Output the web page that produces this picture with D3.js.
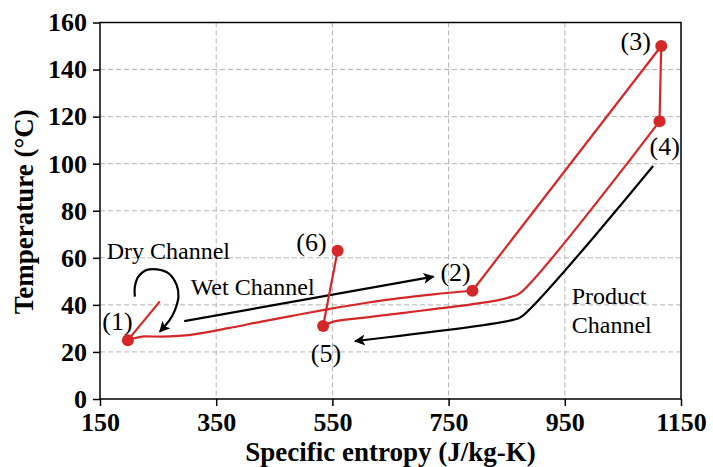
<!DOCTYPE html>
<html>
<head>
<meta charset="utf-8">
<script src="https://cdn.jsdelivr.net/npm/d3@7/dist/d3.min.js"></script>
<style>
  html, body { margin: 0; padding: 0; background: #fff; }
  svg { display: block; }
</style>
</head>
<body>
<svg id="chart" width="713" height="467"></svg>
<script>
// Axis ticks
const xTicks = [150, 350, 550, 750, 950, 1150];
const yTicks = [0, 20, 40, 60, 80, 100, 120, 140, 160];

// State points (1)..(6): specific entropy (J/kg-K) and temperature (°C)
const stateLabels = ["(1)", "(2)", "(3)", "(4)", "(5)", "(6)"];
const stateS = [198, 791, 1116, 1113, 534, 559];
const stateT = [25, 46, 150, 118, 31, 63];
// label anchor positions (entropy, temperature) for the state numbers
const labelS = [180, 762, 1072, 1122, 539, 514];
const labelT = [29.3, 50.1, 148.5, 103.7, 15.7, 62.9];

// Process (1) -> (2): wet channel heating
const wetS = [198, 228, 256, 285, 314, 371, 428, 486, 543, 609, 666, 724, 791];
const wetT = [25, 26.6, 26.5, 26.8, 27.6, 30.1, 32.9, 35.6, 38.2, 40.9, 42.9, 44.5, 46];
// Process (2) -> (3) and (3) -> (4)
const heatS = [791, 1116];
const heatT = [46, 150];
const dropS = [1116, 1113];
const dropT = [150, 118];
// Process (5) -> (4): product/dry channel
const dryS = [534, 552, 609, 666, 724, 781, 838, 856, 873, 1113];
const dryT = [31, 32.9, 34.7, 36.4, 38.2, 39.9, 42.1, 43.3, 45.0, 118];
// Process (5) -> (6)
const mixS = [534, 559];
const mixT = [31, 63];
// Short branch from (1)
const branchS = [198, 253];
const branchT = [25, 41.5];

// Black flow arrows
const productS = [1102, 876, 861, 589];
const productT = [99, 35.1, 33.6, 24.6];
const wetArrowS = [295, 724];
const wetArrowT = [33.1, 52.0];
const loopS = [210, 210, 216, 230, 248, 268, 282, 285, 279, 270, 253];
const loopT = [43.5, 47.7, 52.0, 54.8, 55.1, 53.4, 48.4, 43.5, 37.8, 33.6, 28.6];

// Channel captions
const captions = ["Dry Channel", "Wet Channel", "Product", "Channel"];
const captionS = [161.5, 306, 962, 962];
const captionT = [59.5, 44.1, 40.3, 28.0];

const RED = "#d62728";
const svg = d3.select("#chart");
const plotL = 100, plotR = 681, plotT = 22.5, plotB = 399;

const x = d3.scaleLinear().domain([150, 1150]).range([plotL, plotR]);
const y = d3.scaleLinear().domain([0, 160]).range([plotB, plotT]);

const serif = "'Liberation Serif', 'Times New Roman', Times, serif";

// grid
const grid = svg.append("g");
grid.selectAll(".gx").data(xTicks.slice(1, -1)).enter().append("line")
  .attr("x1", d => x(d)).attr("x2", d => x(d))
  .attr("y1", plotT).attr("y2", plotB)
  .attr("stroke", "#b3b3b3").attr("stroke-width", 1).attr("stroke-dasharray", "5,3");
grid.selectAll(".gy").data(yTicks.slice(1, -1)).enter().append("line")
  .attr("y1", d => y(d)).attr("y2", d => y(d))
  .attr("x1", plotL).attr("x2", plotR)
  .attr("stroke", "#b3b3b3").attr("stroke-width", 1).attr("stroke-dasharray", "5,3");

// axes
const xAxis = svg.append("g").attr("transform", `translate(0,${plotB})`)
  .call(d3.axisBottom(x).tickValues(xTicks).tickFormat(d3.format("d")).tickSize(7).tickPadding(7));
const yAxis = svg.append("g").attr("transform", `translate(${plotL},0)`)
  .call(d3.axisLeft(y).tickValues(yTicks).tickFormat(d3.format("d")).tickSize(7).tickPadding(6));
[xAxis, yAxis].forEach(g => {
  g.select(".domain").remove();
  g.selectAll(".tick line").attr("stroke", "#000").attr("stroke-width", 1.5);
  g.selectAll(".tick text").attr("fill", "#000")
    .style("font-family", serif).style("font-size", "26px").style("font-weight", "bold");
});

// frame
svg.append("rect").attr("x", plotL).attr("y", plotT)
  .attr("width", plotR - plotL).attr("height", plotB - plotT)
  .attr("fill", "none").attr("stroke", "#000").attr("stroke-width", 1.5);

// axis titles
svg.append("text").attr("x", (plotL + plotR) / 2).attr("y", 461)
  .attr("text-anchor", "middle")
  .style("font-family", serif).style("font-size", "27px").style("font-weight", "bold")
  .text("Specific entropy (J/kg-K)");
svg.append("text").attr("transform", "translate(33,211.7) rotate(-90)")
  .attr("text-anchor", "middle")
  .style("font-family", serif).style("font-size", "27px").style("font-weight", "bold")
  .text("Temperature (°C)");

// arrowhead marker
const defs = svg.append("defs");
defs.append("marker").attr("id", "arrow")
  .attr("viewBox", "0 0 10 10").attr("refX", 9).attr("refY", 5)
  .attr("markerUnits", "userSpaceOnUse")
  .attr("markerWidth", 13).attr("markerHeight", 11)
  .attr("orient", "auto")
  .append("path").attr("d", "M0,0 L10,5 L0,10 L2.5,5 Z").attr("fill", "#000");

const zip = (s, t) => s.map((v, i) => [v, t[i]]);
const lineLin = d3.line().x(d => x(d[0])).y(d => y(d[1]));
const lineSmooth = d3.line().x(d => x(d[0])).y(d => y(d[1])).curve(d3.curveCatmullRom.alpha(0.5));
const lineMono = d3.line().x(d => x(d[0])).y(d => y(d[1])).curve(d3.curveMonotoneX);

// black flow arrows
svg.append("path").attr("d", lineSmooth(zip(productS, productT)))
  .attr("fill", "none").attr("stroke", "#000").attr("stroke-width", 2.2)
  .attr("marker-end", "url(#arrow)");
svg.append("path").attr("d", lineLin(zip(wetArrowS, wetArrowT)))
  .attr("fill", "none").attr("stroke", "#000").attr("stroke-width", 2.2)
  .attr("marker-end", "url(#arrow)");
svg.append("path").attr("d", lineSmooth(zip(loopS, loopT)))
  .attr("fill", "none").attr("stroke", "#000").attr("stroke-width", 2.2)
  .attr("marker-end", "url(#arrow)");

// red process lines
const redPaths = [
  [wetS, wetT, lineMono],
  [heatS, heatT, lineLin],
  [dropS, dropT, lineLin],
  [dryS, dryT, lineSmooth],
  [mixS, mixT, lineLin],
  [branchS, branchT, lineLin]
];
redPaths.forEach(([s, t, gen]) => {
  svg.append("path").attr("d", gen(zip(s, t)))
    .attr("fill", "none").attr("stroke", RED).attr("stroke-width", 2.2)
    .attr("stroke-linejoin", "round");
});

// state markers
svg.selectAll(".state").data(stateS).enter().append("circle")
  .attr("cx", (d, i) => x(stateS[i])).attr("cy", (d, i) => y(stateT[i]))
  .attr("r", 6).attr("fill", RED);

// state labels
svg.selectAll(".slabel").data(stateLabels).enter().append("text")
  .attr("x", (d, i) => x(labelS[i])).attr("y", (d, i) => y(labelT[i]))
  .attr("text-anchor", "middle")
  .style("font-family", serif).style("font-size", "26px")
  .text(d => d);

// channel captions
svg.selectAll(".caption").data(captions).enter().append("text")
  .attr("x", (d, i) => x(captionS[i])).attr("y", (d, i) => y(captionT[i]))
  .style("font-family", serif).style("font-size", "24px")
  .text(d => d);
</script>
</body>
</html>
